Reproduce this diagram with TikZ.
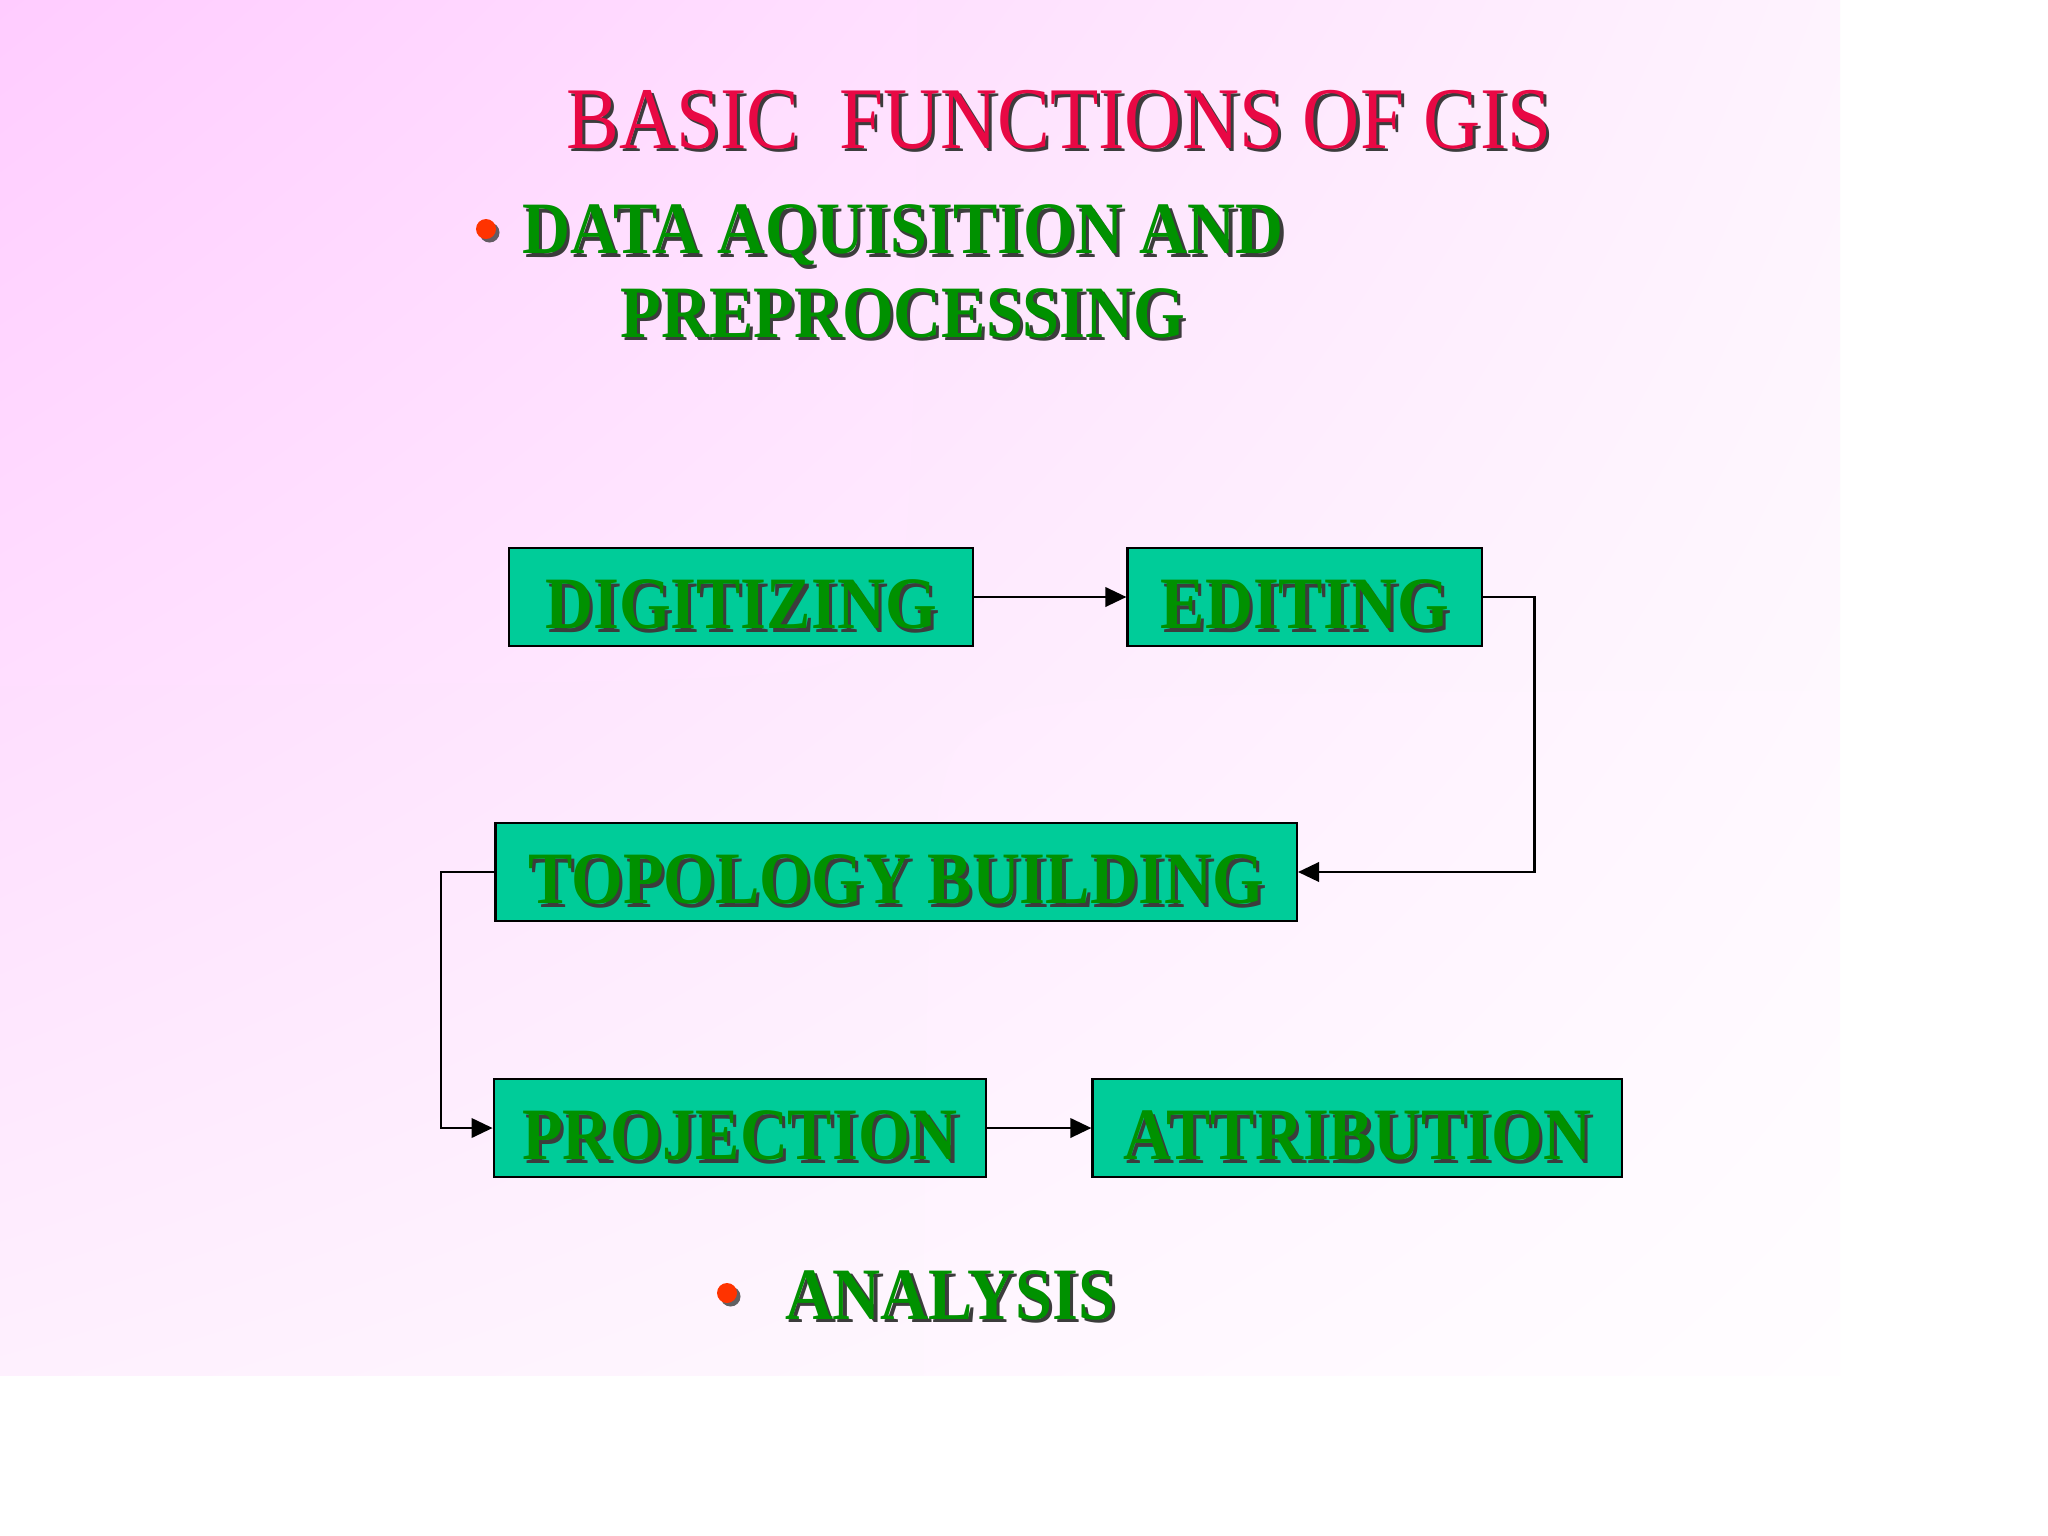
\documentclass[tikz,border=0pt]{standalone}
\usepackage{fontspec}
\setmainfont{Liberation Serif}
\usetikzlibrary{positioning, arrows.meta, shadows, shadings}

\definecolor{bgpink}{RGB}{255,204,255}
\definecolor{bgpinkr}{RGB}{254,243,254}
\definecolor{bgpinkb}{RGB}{254,240,254}
\definecolor{bgwhite}{RGB}{255,253,255}
\definecolor{titlered}{RGB}{232,8,68}
\definecolor{textgreen}{RGB}{0,145,0}
\definecolor{boxgreen}{RGB}{0,204,153}
\definecolor{bulletred}{RGB}{255,51,0}
\definecolor{shadowgray}{RGB}{60,60,60}

% text with a small drop shadow, a bit condensed
\newcommand\shadowed[2]{\scalebox{0.9}[1]{\rlap{\kern1pt\raisebox{-1pt}{\color{shadowgray}#2}}{\color{#1}#2}}}

\begin{document}
\begin{tikzpicture}[x=0.01cm,y=-0.01cm,>={Triangle[length=6pt,width=5.5pt]},
	stepbox/.style={shape=rectangle,draw,line width=0.7pt,fill=boxgreen,minimum height=0.98cm,
		text height=18pt,text depth=0pt,inner sep=0pt,font=\fontsize{21}{25}\selectfont\bfseries},
	headtext/.style={inner sep=0pt,font=\fontsize{21}{23.8}\selectfont\bfseries},
	bulletdot/.style={circle,fill=bulletred,minimum size=0.2cm,inner sep=0pt,
		drop shadow={shadow xshift=1pt,shadow yshift=-1pt,fill=shadowgray,opacity=0.8}},
	link/.style={line width=0.8pt},]
	% background
	\useasboundingbox (0,0) rectangle (2048,1536);
	\fill[white] (0,0) rectangle (2048,1536);
	\shade[upper left=bgpink,upper right=bgpinkr,lower left=bgpinkb,lower right=bgwhite]
		(0,0) rectangle (1840,1375);
	% headings
	\node[inner sep=0pt,anchor=base,font=\fontsize{25}{30}\selectfont] (title) at (1059,148) {\shadowed{titlered}{BASIC\ \ FUNCTIONS OF GIS}};
	\node[headtext,align=center] (acq) at (903,273) {\shadowed{textgreen}{DATA AQUISITION AND}\\\shadowed{textgreen}{PREPROCESSING}};
	\node[bulletdot] (b1) at (486,229) {};
	% create the boxes
	\node[stepbox,minimum width=4.64cm] (dig) at (741,597) {\shadowed{textgreen}{DIGITIZING}};
	\node[stepbox,minimum width=3.54cm] (edit)[right=1.52cm of dig] {\shadowed{textgreen}{EDITING}};
	\node[stepbox,minimum width=8.01cm] (topo) at (896,872) {\shadowed{textgreen}{TOPOLOGY BUILDING}};
	\node[stepbox,minimum width=4.92cm] (proj) at (740,1128) {\shadowed{textgreen}{PROJECTION}};
	\node[stepbox,minimum width=5.29cm] (attr)[right=1.04cm of proj] {\shadowed{textgreen}{ATTRIBUTION}};
	% links
	\draw[link,->] (dig) -- (edit);
	\draw[link,->] (edit.east) -- ++(51,0) |- (topo.east);
	\draw[link,->] (topo.west) -- ++(-53,0) |- (proj.west);
	\draw[link,->] (proj) -- (attr);
	% last item
	\node[bulletdot] (b2) at (727,1293) {};
	\node[headtext,anchor=base] (ana) at (950,1319) {\shadowed{textgreen}{ANALYSIS}};
\end{tikzpicture}
\end{document}
